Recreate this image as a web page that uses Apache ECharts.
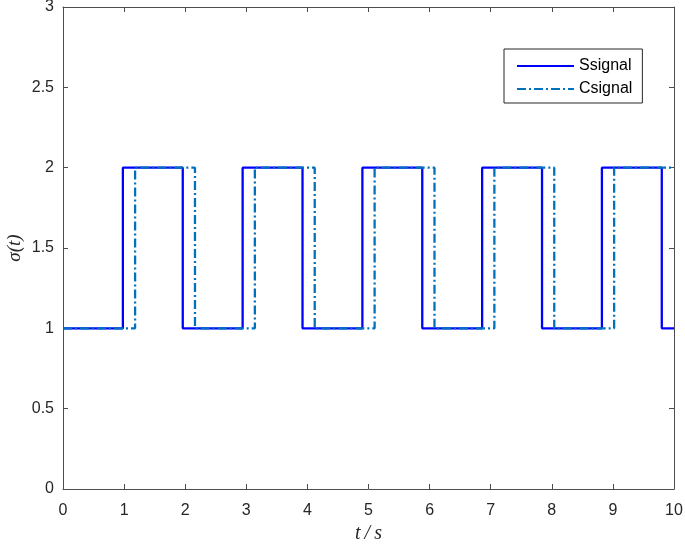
<!DOCTYPE html>
<html>
<head>
<meta charset="utf-8">
<script src="https://cdn.jsdelivr.net/npm/echarts@6/dist/echarts.min.js"></script>
<style>html,body{margin:0;padding:0;background:#fff;}#c{width:685px;height:545px;}</style>
</head>
<body>
<div id="c"></div>
<script>
// Switching times (s) and levels
const sTimes = [0, 0.98, 1.96, 2.94, 3.92, 4.90, 5.88, 6.86, 7.84, 8.82, 9.80, 10];
const sValues = [1, 2, 1, 2, 1, 2, 1, 2, 1, 2, 1, 1];
const cTimes = [0, 1.18, 2.16, 3.14, 4.12, 5.10, 6.08, 7.06, 8.04, 9.02, 10];
const cValues = [1, 2, 1, 2, 1, 2, 1, 2, 1, 2, 2];
const seriesNames = ['Ssignal', 'Csignal'];
const xTicks = [0, 1, 2, 3, 4, 5, 6, 7, 8, 9, 10];
const yTicks = [0, 0.5, 1, 1.5, 2, 2.5, 3];

const pair = (ts, vs) => ts.map((t, i) => [t, vs[i]]);
const axisCol = '#4d4d4d';
const labelStyle = {color: '#262626', fontSize: 16, fontFamily: 'Liberation Sans, Arial, sans-serif'};
const baseLine = {show: true, onZero: false, lineStyle: {color: axisCol, width: 1}};
const baseTick = {show: true, inside: true, length: 5, lineStyle: {color: axisCol}};

const chart = echarts.init(document.getElementById('c'), null, {renderer: 'canvas'});
chart.setOption({
  backgroundColor: '#fff',
  animation: false,
  grid: {left: 63, right: 11, top: 7, bottom: 56, containLabel: false, outerBoundsMode: 'none'},
  legend: {
    data: seriesNames,
    orient: 'vertical',
    left: 504, top: 49,
    padding: [9, 10, 6, 12],
    itemWidth: 57, itemHeight: 16, itemGap: 7,
    borderColor: '#262626', borderWidth: 1, backgroundColor: '#fff',
    itemStyle: {opacity: 0},
    textStyle: {color: '#000', fontSize: 16, fontFamily: 'Liberation Sans, Arial, sans-serif'}
  },
  xAxis: [{
    type: 'value', min: xTicks[0], max: xTicks[xTicks.length - 1], interval: 1,
    position: 'bottom',
    name: 't\u2009/\u2009s', nameLocation: 'middle', nameGap: 35,
    nameTextStyle: {fontFamily: 'Liberation Serif, serif', fontStyle: 'italic', fontSize: 20, color: '#262626'},
    axisLine: baseLine,
    axisTick: baseTick,
    axisLabel: Object.assign({margin: 14}, labelStyle),
    splitLine: {show: false}
  }, {
    type: 'value', min: xTicks[0], max: xTicks[xTicks.length - 1], interval: 1,
    position: 'top',
    axisLine: baseLine,
    axisTick: baseTick,
    axisLabel: {show: false},
    splitLine: {show: false}
  }],
  yAxis: [{
    type: 'value', min: yTicks[0], max: yTicks[yTicks.length - 1], interval: 0.5,
    position: 'left',
    name: 'σ(t)', nameLocation: 'middle', nameGap: 39, nameMoveOverlap: false,
    nameTextStyle: {fontFamily: 'Liberation Serif, serif', fontStyle: 'italic', fontSize: 19, color: '#262626'},
    axisLine: baseLine,
    axisTick: baseTick,
    axisLabel: Object.assign({margin: 9}, labelStyle),
    splitLine: {show: false}
  }, {
    type: 'value', min: yTicks[0], max: yTicks[yTicks.length - 1], interval: 0.5,
    position: 'right',
    axisLine: baseLine,
    axisTick: baseTick,
    axisLabel: {show: false},
    splitLine: {show: false}
  }],
  series: [{
    name: seriesNames[0], type: 'line', step: 'end', symbol: 'none',
    xAxisIndex: 0, yAxisIndex: 0,
    data: pair(sTimes, sValues),
    lineStyle: {color: '#0000FF', width: 2.3},
    itemStyle: {color: '#0000FF'}
  }, {
    name: seriesNames[1], type: 'line', step: 'end', symbol: 'none',
    xAxisIndex: 0, yAxisIndex: 0,
    data: pair(cTimes, cValues),
    lineStyle: {color: '#0072BD', width: 2.3, type: [9, 3, 2, 3]},
    itemStyle: {color: '#0072BD'}
  }]
});
</script>
</body>
</html>
